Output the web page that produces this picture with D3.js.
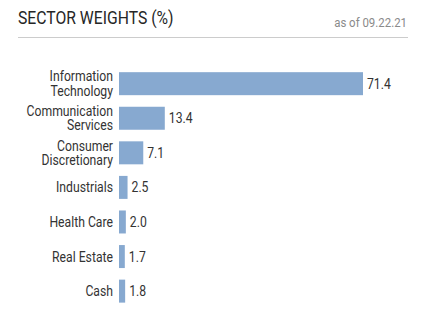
<!DOCTYPE html>
<html><head><meta charset="utf-8">
<script src="https://cdn.jsdelivr.net/npm/d3@7"></script>
<style>body{margin:0;background:#fff}</style>
</head><body>
<svg id="c" width="438" height="325"></svg>
<script>
const categories = [["Information","Technology"],["Communication","Services"],["Consumer","Discretionary"],["Industrials"],["Health Care"],["Real Estate"],["Cash"]];
const values = [71.4, 13.4, 7.1, 2.5, 2.0, 1.7, 1.8];
const labels = ["71.4","13.4","7.1","2.5","2.0","1.7","1.8"];
const title = "SECTOR WEIGHTS (%)";
const asOf = "as of 09.22.21";

const font = "Roboto, 'Noto Sans', sans-serif";
const sx = 0.86;
const svg = d3.select("#c");
function cond(sel, x){ return sel.attr("transform",`translate(${x},0) scale(${sx},1)`).attr("x",0); }

cond(svg.append("text"),18).attr("y",24).attr("font-family",font)
  .attr("font-size",18.3).attr("fill","#262626").text(title);
cond(svg.append("text"),407).attr("y",27).attr("text-anchor","end").attr("font-family",font)
  .attr("font-size",13.3).attr("fill","#8a8a8a").text(asOf);
svg.append("line").attr("x1",18).attr("x2",408).attr("y1",37.5).attr("y2",37.5)
  .attr("stroke","#cccccc").attr("stroke-width",1);

const idx = d3.range(values.length);
const x = d3.scaleLinear().domain([0,71.4]).range([119,363]);
const y = d3.scaleBand().domain(idx).range([66.3,308.5]).paddingInner(0.335).paddingOuter(0.17);

svg.selectAll("rect.bar").data(idx).join("rect").attr("class","bar")
  .attr("x",x(0)).attr("y",i=>y(i)).attr("width",i=>x(values[i])-x(0)).attr("height",y.bandwidth())
  .attr("fill","#87a9d0");

svg.selectAll("text.val").data(idx).join("text").attr("class","val")
  .attr("transform",i=>`translate(${x(values[i])+4},0) scale(${sx},1)`).attr("x",0)
  .attr("y",i=>y(i)+y.bandwidth()/2).attr("dy","0.35em")
  .attr("font-family",font).attr("font-size",14.2).attr("fill","#333").text(i=>labels[i]);

const cat = svg.selectAll("text.cat").data(idx).join("text").attr("class","cat")
  .attr("transform",`translate(113,0) scale(${sx},1)`)
  .attr("text-anchor","end").attr("font-family",font).attr("font-size",14.2).attr("fill","#333");
cat.each(function(i){
  const lines = categories[i];
  const cy = y(i)+y.bandwidth()/2;
  const lh = 14.4;
  lines.forEach((l,k)=>{
    d3.select(this).append("tspan").attr("x",0)
      .attr("y", cy + (k-(lines.length-1)/2)*lh).attr("dy","0.35em").text(l);
  });
});
</script>
</body></html>
